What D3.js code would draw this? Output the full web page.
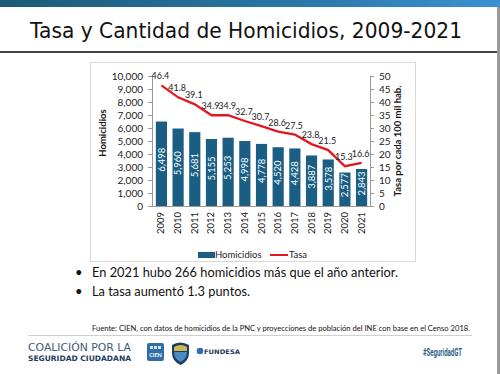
<!DOCTYPE html>
<html><head><meta charset="utf-8">
<script src="https://cdn.jsdelivr.net/npm/d3@7"></script>
<style>
html,body{margin:0;padding:0;background:#fff;}
svg{display:block;}
</style></head>
<body>
<svg id="c" width="500" height="374"></svg>
<script>
const years = ["2009","2010","2011","2012","2013","2014","2015","2016","2017","2018","2019","2020","2021"];
const homicidios = [6498,5960,5681,5155,5253,4998,4778,4520,4428,3887,3578,2577,2843];
const tasa = [46.4,41.8,39.1,34.9,34.9,32.7,30.7,28.6,27.5,23.8,21.5,15.3,16.6];
const leftTicks = [0,1000,2000,3000,4000,5000,6000,7000,8000,9000,10000];
const rightTicks = [0,5,10,15,20,25,30,35,40,45,50];
const title = "Tasa y Cantidad de Homicidios, 2009-2021";
const bullets = ["En 2021 hubo 266 homicidios más que el año anterior.","La tasa aumentó 1.3 puntos."];
const bulletWidths = [306,158];
const fuente = "Fuente: CIEN, con datos de homicidios de la PNC y proyecciones de población del INE con base en el Censo 2018.";

const svg = d3.select("#c");
const F = "Lato, 'Open Sans', sans-serif";

// top gradient bar
const defs = svg.append("defs");
const g1 = defs.append("linearGradient").attr("id","tg");
g1.append("stop").attr("offset","0%").attr("stop-color","#1b5b78");
g1.append("stop").attr("offset","60%").attr("stop-color","#2a77a8");
g1.append("stop").attr("offset","100%").attr("stop-color","#3a92d2");
svg.append("rect").attr("x",0).attr("y",0).attr("width",500).attr("height",7).attr("fill","url(#tg)");
// right border
svg.append("rect").attr("x",497).attr("y",7).attr("width",3).attr("height",367).attr("fill","#9a9a9a");

// title
svg.append("text").attr("x",246).attr("y",38).attr("text-anchor","middle")
  .attr("font-family","'DejaVu Sans', sans-serif").attr("font-size",21).attr("fill","#111")
  .attr("textLength",432).attr("lengthAdjust","spacingAndGlyphs").text(title);
svg.append("rect").attr("x",0).attr("y",51).attr("width",497).attr("height",2).attr("fill","#444");

// chart box
svg.append("rect").attr("x",90.5).attr("y",62.5).attr("width",325).attr("height",199).attr("fill","#fff").attr("stroke","#d9d9d9");

const x = d3.scaleBand().domain(years).range([153,370]).paddingInner(0.33).paddingOuter(0.17);
const yL = d3.scaleLinear().domain([0,10000]).range([206,76]);
const yR = d3.scaleLinear().domain([0,50]).range([206,76]);

// left axis
const ax = svg.append("g").attr("transform","translate(152,0)")
  .call(d3.axisLeft(yL).tickValues(leftTicks).tickSize(4).tickPadding(5).tickFormat(d3.format(",")));
ax.selectAll("path,line").attr("stroke","#999");
ax.select(".domain").attr("d","M-4,76.5H0.5V206.5H-4");
ax.selectAll("text").attr("font-family",F).attr("font-size",10).attr("fill","#222");

const axr = svg.append("g").attr("transform","translate(370,0)")
  .call(d3.axisRight(yR).tickValues(rightTicks).tickSize(4).tickPadding(5));
axr.selectAll("path,line").attr("stroke","#999");
axr.select(".domain").attr("d","M4,76.5H0.5V206.5H4");
axr.selectAll("text").attr("font-family",F).attr("font-size",10).attr("fill","#222");

// bottom axis line
svg.append("line").attr("x1",152).attr("x2",370).attr("y1",206.5).attr("y2",206.5).attr("stroke","#999");

// year labels
svg.append("g").selectAll("text").data(years).join("text")
  .attr("transform",d=>`translate(${x(d)+x.bandwidth()/2+3},212) rotate(-90)`)
  .attr("text-anchor","end").attr("font-family",F).attr("font-size",9.5).attr("fill","#222").text(d=>d);

// bars
svg.append("g").selectAll("rect").data(years).join("rect")
  .attr("x",d=>x(d)).attr("width",x.bandwidth())
  .attr("y",(d,i)=>yL(homicidios[i])).attr("height",(d,i)=>206-yL(homicidios[i]))
  .attr("fill","#1a5e84");
svg.append("g").selectAll("text").data(years).join("text")
  .attr("transform",(d,i)=>`translate(${x(d)+x.bandwidth()/2+3.3},${(yL(homicidios[i])+206)/2-4}) rotate(-90)`)
  .attr("text-anchor","middle").attr("font-family",F).attr("font-size",9.5).attr("fill","#fff")
  .text((d,i)=>d3.format(",")(homicidios[i]));

// line
const line = d3.line().x((d,i)=>x(years[i])+x.bandwidth()/2).y(d=>yR(d));
svg.append("path").datum(tasa).attr("d",line).attr("fill","none").attr("stroke","#e0191f").attr("stroke-width",2.3);
svg.append("g").selectAll("text").data(tasa).join("text")
  .attr("x",(d,i)=>x(years[i])+x.bandwidth()/2-1).attr("y",d=>yR(d)-6)
  .attr("text-anchor","middle").attr("font-family",F).attr("font-size",9).attr("fill","#222")
  .text(d=>d3.format(".1f")(d));

// axis titles
svg.append("text").attr("transform","translate(106,133) rotate(-90)").attr("text-anchor","middle")
  .attr("font-family",F).attr("font-weight","bold").attr("font-size",9.5).attr("fill","#111").text("Homicidios");
svg.append("text").attr("transform","translate(401,141) rotate(-90)").attr("text-anchor","middle")
  .attr("font-family",F).attr("font-weight","bold").attr("font-size",9.5).attr("fill","#111").text("Tasa por cada 100 mil hab.");

// legend
svg.append("rect").attr("x",198).attr("y",252).attr("width",17).attr("height",6).attr("fill","#1a5e84");
svg.append("text").attr("x",215).attr("y",258).attr("font-family",F).attr("font-size",9.5).attr("fill","#222").text("Homicidios");
svg.append("line").attr("x1",270).attr("x2",288).attr("y1",255).attr("y2",255).attr("stroke","#e0191f").attr("stroke-width",2);
svg.append("text").attr("x",289).attr("y",258).attr("font-family",F).attr("font-size",9.5).attr("fill","#222").text("Tasa");

// bullets
bullets.forEach((b,i)=>{
  svg.append("text").attr("x",75).attr("y",277+i*19).attr("font-family",F).attr("font-size",13).attr("fill","#111").text("•");
  svg.append("text").attr("x",92).attr("y",277+i*19).attr("font-family",F).attr("font-size",14).attr("fill","#111")
    .attr("textLength",bulletWidths[i]).attr("lengthAdjust","spacingAndGlyphs").text(b);
});
svg.append("text").attr("x",92).attr("y",330.5).attr("font-family",F).attr("font-size",7.3).attr("fill","#111")
  .attr("textLength",378).attr("lengthAdjust","spacingAndGlyphs").text(fuente);
svg.append("line").attr("x1",28).attr("x2",472).attr("y1",335.5).attr("y2",335.5).attr("stroke","#d0d0d0");

// footer logos
svg.append("text").attr("x",28).attr("y",351).attr("font-family","'DejaVu Sans', sans-serif").attr("font-size",11)
  .attr("fill","#3e5a78").attr("textLength",103).attr("lengthAdjust","spacingAndGlyphs").text("COALICIÓN POR LA");
svg.append("text").attr("x",28).attr("y",360.5).attr("font-family","'DejaVu Sans', sans-serif").attr("font-weight","bold").attr("font-size",7.5)
  .attr("fill","#1f3a5c").attr("textLength",103).attr("lengthAdjust","spacingAndGlyphs").text("SEGURIDAD CIUDADANA");
svg.append("rect").attr("x",147).attr("y",343).attr("width",17).attr("height",18).attr("rx",2).attr("fill","#2f6fa6");
[0,1,2].forEach(k=>svg.append("rect").attr("x",150+k*4).attr("y",346).attr("width",3).attr("height",3).attr("fill","#cfe3f3"));
svg.append("text").attr("x",155.5).attr("y",357).attr("text-anchor","middle").attr("font-family",F).attr("font-weight","bold")
  .attr("font-size",5.5).attr("fill","#fff").text("CIEN");
svg.append("path").attr("d","M172,345 Q180,340 189,345 L189,353 Q189,361 180.5,365 Q172,361 172,353 Z").attr("fill","#1e3c5e");
svg.append("path").attr("d","M174,347 Q180.5,343 187,347 L187,351 L174,351 Z").attr("fill","#c8b85a");
svg.append("path").attr("d","M174,352 L187,352 Q187,359 180.5,362 Q174,359 174,352 Z").attr("fill","#4a8ac0");
svg.append("circle").attr("cx",200).attr("cy",351).attr("r",3.3).attr("fill","#2d6fb0");
svg.append("text").attr("x",204).attr("y",353.5).attr("font-family","'DejaVu Sans', sans-serif").attr("font-weight","bold")
  .attr("font-size",6.3).attr("fill","#1f3a5c").attr("textLength",36).attr("lengthAdjust","spacingAndGlyphs").text("FUNDESA");
svg.append("text").attr("x",423).attr("y",356).attr("font-family","'Liberation Sans Narrow', 'Roboto', sans-serif").attr("font-weight","bold")
  .attr("font-size",10.5).attr("fill","#2b5f8c").attr("textLength",39).attr("lengthAdjust","spacingAndGlyphs").text("#SeguridadGT");
</script>
</body></html>
